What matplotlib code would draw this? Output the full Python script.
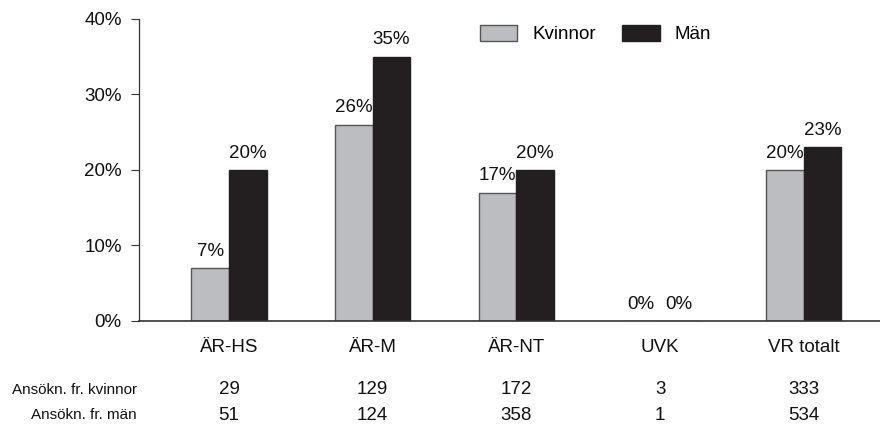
import matplotlib
matplotlib.use("Agg")
import matplotlib.pyplot as plt
from matplotlib import font_manager
import numpy as np

categories = ["ÄR-HS", "ÄR-M", "ÄR-NT", "UVK", "VR totalt"]
kvinnor = [7, 26, 17, 0, 20]
man = [20, 35, 20, 0, 23]
ansokn_kvinnor = [29, 129, 172, 3, 333]
ansokn_man = [51, 124, 358, 1, 534]
row_labels = ["Ansökn. fr. kvinnor", "Ansökn. fr. män"]
yticks = [0, 10, 20, 30, 40]

names = {f.name for f in font_manager.fontManager.ttflist}
family = ["Liberation Sans Narrow", "DejaVu Sans"] if "Liberation Sans Narrow" in names else ["Liberation Sans", "DejaVu Sans"]
plt.rcParams["font.family"] = family

light = "#bcbdc0"
dark = "#231f20"
txt = "#111111"
fs = 13.5

fig = plt.figure(figsize=(8.8, 4.26), dpi=100)
ax = fig.add_axes([0.158, 0.2465, 1 - 0.158, 0.9554 - 0.2465])

x = np.arange(len(categories))
w = 0.262
b1 = ax.bar(x - w / 2, kvinnor, w, color=light, edgecolor="#555555", linewidth=1.0, label="Kvinnor")
b2 = ax.bar(x + w / 2, man, w, color=dark, edgecolor=dark, linewidth=1.0, label="Män")

for bars, vals in ((b1, kvinnor), (b2, man)):
    for rect, v in zip(bars, vals):
        ax.annotate(f"{v}%", (rect.get_x() + rect.get_width() / 2, v),
                    xytext=(0, 6), textcoords="offset points",
                    ha="center", va="bottom", fontsize=fs, color=txt)

ax.set_xlim(-0.626, 4.53)
ax.set_ylim(0, 40)
ax.set_yticks(yticks)
ax.set_yticklabels([f"{t}%" for t in yticks], fontsize=fs, color=txt)
ax.tick_params(axis="y", length=6, width=0.8, color="#333333", pad=6.5)
ax.set_xticks(x)
ax.set_xticklabels(categories, fontsize=fs, color=txt)
ax.tick_params(axis="x", length=0, pad=13)
for s in ("top", "right"):
    ax.spines[s].set_visible(False)
ax.spines["left"].set_color("#333333")
ax.spines["bottom"].set_color("#333333")
ax.spines["left"].set_linewidth(0.9)
ax.spines["bottom"].set_linewidth(1.2)

ax.legend(loc="upper left", bbox_to_anchor=(0.442, 1.025), ncol=2, frameon=False,
          fontsize=fs, handlelength=2.0, handleheight=0.95, columnspacing=1.4,
          handletextpad=0.8, borderaxespad=0.3)

# Application counts below the category labels
for row, vals, yfig in ((0, ansokn_kvinnor, 390), (1, ansokn_man, 415)):
    yf = 1 - yfig / 426
    fig.text(137 / 880, yf, row_labels[row], ha="right", va="center", fontsize=11, color=txt)
    for xi, v in zip(x, vals):
        xd = ax.transData.transform((xi, 0))[0]
        xf = fig.transFigure.inverted().transform((xd, 0))[0]
        fig.text(xf, yf, str(v), ha="center", va="center", fontsize=fs, color=txt)

fig.savefig("out.png", dpi=100)
